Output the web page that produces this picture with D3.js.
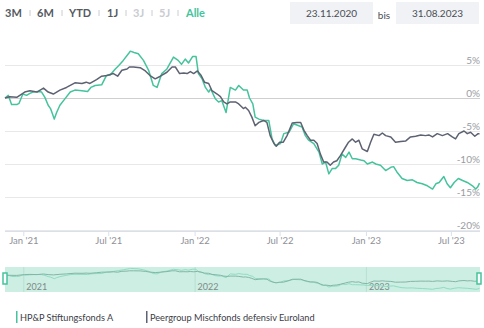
<!DOCTYPE html>
<html>
<head>
<meta charset="utf-8">
<script src="https://cdn.jsdelivr.net/npm/d3@7"></script>
<style>
  html, body { margin: 0; padding: 0; background: #fff; }
  svg { display: block; font-family: Lato, "Open Sans", sans-serif; }
</style>
</head>
<body>
<svg id="chart" width="484" height="328"></svg>
<script>
// Performance in % since 23.11.2020
const fundName = "HP&P Stiftungsfonds A";
const peerName = "Peergroup Mischfonds defensiv Euroland";

const fundDates = ["2020-11-23","2020-11-30","2020-12-07","2020-12-18","2020-12-23","2020-12-31","2021-01-08","2021-01-15","2021-01-22","2021-02-02","2021-02-09","2021-02-16","2021-02-23","2021-02-28","2021-03-08","2021-03-13","2021-03-20","2021-03-31","2021-04-11","2021-04-21","2021-05-06","2021-05-18","2021-05-25","2021-06-03","2021-06-17","2021-06-27","2021-07-05","2021-07-16","2021-07-23","2021-08-02","2021-08-15","2021-08-17","2021-08-25","2021-09-03","2021-09-14","2021-09-25","2021-10-05","2021-10-13","2021-10-23","2021-11-03","2021-11-17","2021-11-27","2021-12-04","2021-12-12","2021-12-19","2021-12-28","2022-01-04","2022-01-09","2022-01-17","2022-01-24","2022-01-31","2022-02-04","2022-02-14","2022-02-21","2022-02-28","2022-03-09","2022-03-18","2022-03-29","2022-04-05","2022-04-15","2022-04-23","2022-04-28","2022-05-05","2022-05-10","2022-05-18","2022-05-28","2022-06-08","2022-06-15","2022-06-22","2022-07-03","2022-07-10","2022-07-21","2022-07-31","2022-08-11","2022-08-18","2022-08-25","2022-09-01","2022-09-12","2022-09-23","2022-09-30","2022-10-07","2022-10-14","2022-10-21","2022-10-28","2022-11-04","2022-11-11","2022-11-19","2022-11-26","2022-12-03","2022-12-10","2022-12-21","2022-12-28","2023-01-04","2023-01-15","2023-01-22","2023-02-01","2023-02-12","2023-02-23","2023-03-01","2023-03-08","2023-03-19","2023-03-30","2023-04-10","2023-04-20","2023-05-01","2023-05-12","2023-05-23","2023-05-30","2023-06-06","2023-06-16","2023-06-23","2023-06-30","2023-07-08","2023-07-17","2023-07-26","2023-08-05","2023-08-16","2023-08-23","2023-08-27","2023-08-31"];
const fundValues = [0,0.4,-1.0,-1.0,-0.8,0.6,0.4,0.7,0.9,1.0,0.9,0.1,-1.1,-1.6,-3.2,-2.2,-1.1,-0.1,0.9,1.2,1.1,1.0,1.6,1.9,2.0,3.4,3.5,4.4,4.9,5.7,6.9,7.1,6.9,6.7,5.7,4.2,1.9,1.6,3.7,4.4,6.2,5.7,5.1,5.9,5.3,6.3,6.3,3.7,2.9,1.6,0.9,1.4,-0.1,-0.6,-0.4,-2.2,1.6,1.2,1.9,1.2,1.2,0.0,-0.9,-2.9,-3.2,-3.4,-3.4,-6.2,-7.2,-6.9,-5.4,-5.2,-3.9,-4.2,-4.4,-5.7,-6.4,-6.9,-8.2,-10.0,-9.7,-11.5,-10.7,-10.7,-10.2,-8.5,-9.0,-8.2,-9.2,-9.2,-9.4,-9.5,-10.0,-9.7,-10.0,-10.2,-11.0,-10.5,-10.4,-11.2,-12.2,-12.5,-12.4,-12.8,-13.0,-13.3,-13.8,-13.0,-12.8,-11.9,-13.0,-13.6,-12.8,-12.2,-12.5,-12.8,-13.3,-13.8,-13.5,-12.9];

const peerDates = ["2020-11-23","2020-12-03","2020-12-18","2021-01-04","2021-01-15","2021-01-30","2021-02-13","2021-02-23","2021-03-06","2021-03-20","2021-04-03","2021-04-21","2021-05-06","2021-05-15","2021-05-23","2021-06-06","2021-06-17","2021-06-28","2021-07-12","2021-07-21","2021-07-30","2021-08-10","2021-08-15","2021-08-24","2021-09-07","2021-09-18","2021-09-28","2021-10-09","2021-10-20","2021-11-03","2021-11-14","2021-11-21","2021-11-30","2021-12-09","2021-12-16","2021-12-23","2021-12-30","2022-01-07","2022-01-15","2022-01-22","2022-01-31","2022-02-07","2022-02-18","2022-02-25","2022-03-04","2022-03-11","2022-03-18","2022-03-29","2022-04-05","2022-04-15","2022-04-19","2022-04-26","2022-05-03","2022-05-10","2022-05-18","2022-05-28","2022-06-04","2022-06-11","2022-06-19","2022-06-24","2022-07-01","2022-07-09","2022-07-17","2022-07-28","2022-08-07","2022-08-15","2022-08-22","2022-08-29","2022-09-05","2022-09-12","2022-09-19","2022-09-26","2022-10-03","2022-10-10","2022-10-17","2022-10-24","2022-10-31","2022-11-08","2022-11-18","2022-11-25","2022-12-03","2022-12-10","2022-12-17","2022-12-24","2023-01-04","2023-01-11","2023-01-18","2023-01-29","2023-02-05","2023-02-12","2023-02-23","2023-03-05","2023-03-16","2023-03-27","2023-04-06","2023-04-17","2023-04-28","2023-05-08","2023-05-15","2023-05-23","2023-06-02","2023-06-13","2023-06-24","2023-07-04","2023-07-11","2023-07-18","2023-07-29","2023-08-05","2023-08-12","2023-08-21","2023-08-28","2023-08-31"];
const peerValues = [0,0.2,0.1,0.9,1.1,0.9,1.5,0.9,0.6,1.2,1.6,2.3,2.2,2.4,2.2,2.8,3.3,3.4,3.7,3.3,4.2,4.4,4.7,4.7,4.6,4.1,3.4,2.9,3.3,3.9,4.7,4.7,3.7,3.8,3.7,4.0,3.7,4.1,3.4,2.4,2.2,1.1,0.6,0.2,-0.6,-0.9,-0.6,-0.6,-0.9,-1.6,-1.4,-1.9,-2.9,-4.2,-3.7,-3.4,-3.7,-5.7,-6.9,-7.3,-6.7,-6.7,-5.7,-3.8,-3.7,-3.7,-4.9,-5.7,-6.4,-6.4,-6.9,-8.5,-9.7,-9.7,-10.2,-9.7,-9.5,-8.7,-7.5,-6.7,-6.2,-6.7,-6.4,-7.7,-8.1,-6.7,-5.5,-5.7,-5.3,-5.7,-5.9,-6.7,-6.6,-6.5,-5.9,-5.8,-5.6,-5.7,-5.6,-5.9,-5.4,-5.7,-5.4,-5.9,-6.2,-5.4,-5.0,-5.4,-5.2,-5.8,-5.4,-5.4];

const yTickValues = [5, 0, -5, -10, -15, -20];
const xTickDates = ["2021-01-01","2021-07-01","2022-01-01","2022-07-01","2023-01-01","2023-07-01"];
const navYearDates = ["2021-01-01","2022-01-01","2023-01-01"];
const rangeButtons = ["3M", "6M", "YTD", "1J", "3J", "5J", "Alle"];
const rangeState = ["on", "on", "on", "on", "off", "off", "active"];
const startLabel = "23.11.2020";
const endLabel = "31.08.2023";

const green = "#45c39c";
const slate = "#5d6272";

const parse = d3.timeParse("%Y-%m-%d");
const fund = fundDates.map((d, i) => ({ date: parse(d), value: fundValues[i] }));
const peer = peerDates.map((d, i) => ({ date: parse(d), value: peerValues[i] }));

const svg = d3.select("#chart");

// ---- range selector buttons ----
const btnX = [5, 37, 69, 107, 133, 159, 186];
const sepX = [30, 62, 99, 126, 152, 178];
const btnColor = { on: "#555a62", off: "#c9ccd1", active: green };
svg.append("g").selectAll("text").data(rangeButtons).join("text")
  .attr("x", (d, i) => btnX[i]).attr("y", 17)
  .attr("font-size", 11).attr("font-weight", 700)
  .attr("fill", (d, i) => btnColor[rangeState[i]])
  .text(d => d);
svg.append("g").selectAll("line").data(sepX).join("line")
  .attr("x1", d => d).attr("x2", d => d).attr("y1", 10).attr("y2", 16)
  .attr("stroke", "#c9ccd1").attr("stroke-width", 1);

// ---- date inputs ----
const boxes = [{ x: 290, w: 83, label: startLabel }, { x: 396, w: 83, label: endLabel }];
const bx = svg.append("g").selectAll("g").data(boxes).join("g");
bx.append("rect").attr("x", d => d.x).attr("y", 2).attr("width", d => d.w).attr("height", 22)
  .attr("fill", "#f0f2f5");
bx.append("text").attr("x", d => d.x + d.w / 2).attr("y", 16.5).attr("text-anchor", "middle")
  .attr("font-size", 10).attr("fill", "#4a4e55").text(d => d.label);
svg.append("text").attr("x", 384).attr("y", 18.5).attr("text-anchor", "middle")
  .attr("font-size", 10).attr("fill", "#4a4e55").text("bis");

// ---- main plot ----
const x = d3.scaleTime()
  .domain([parse("2020-11-23"), parse("2023-08-31")])
  .range([5, 479.5]);
const y = d3.scaleLinear().domain([-20, 5]).range([230, 65]);

const grid = svg.append("g");
grid.selectAll("line").data(yTickValues).join("line")
  .attr("x1", 5).attr("x2", 480)
  .attr("y1", d => y(d) + 0.5).attr("y2", d => y(d) + 0.5)
  .attr("stroke", d => d === 0 ? "#cfcfcf" : "#e8e8e8").attr("stroke-width", 1);
grid.selectAll("text").data(yTickValues).join("text")
  .attr("x", 480).attr("y", d => y(d) - 1.5)
  .attr("text-anchor", "end").attr("font-size", 10).attr("fill", "#9a9ca2")
  .text(d => d + "%");

// x axis
const xAxis = d3.axisBottom(x)
  .tickValues(xTickDates.map(parse))
  .tickSize(5)
  .tickFormat(d3.timeFormat("%b '%y"));
const ax = svg.append("g").attr("transform", "translate(0,231)").call(xAxis);
ax.select(".domain").attr("d", "M5,0.5H480").attr("stroke", "#d9e0ec");
ax.selectAll(".tick line").attr("stroke", "#d9e0ec");
ax.selectAll(".tick text").attr("font-family", "Lato, 'Open Sans', sans-serif")
  .attr("font-size", 9.5).attr("fill", "#8e9098").attr("dy", "0.55em");

const line = d3.line().x(d => x(d.date)).y(d => y(d.value)).curve(d3.curveLinear);
svg.append("path").datum(fund).attr("d", line)
  .attr("fill", "none").attr("stroke", green).attr("stroke-width", 1.5).attr("stroke-linejoin", "round");
svg.append("path").datum(peer).attr("d", line)
  .attr("fill", "none").attr("stroke", slate).attr("stroke-width", 1.5).attr("stroke-linejoin", "round");

// ---- navigator ----
const navTop = 267, navBottom = 292;
const nav = svg.append("g");
nav.append("rect").attr("x", 5).attr("y", navTop).attr("width", 475).attr("height", navBottom - navTop)
  .attr("fill", "#cdeee3");
const ny = d3.scaleLinear().domain([-14.5, 7.5]).range([290, 268]);
nav.selectAll("line.year").data(navYearDates).join("line").attr("class", "year")
  .attr("x1", d => x(parse(d)) + 0.5).attr("x2", d => x(parse(d)) + 0.5)
  .attr("y1", navTop).attr("y2", navBottom).attr("stroke", "#b9dfd2");
nav.selectAll("text").data(navYearDates).join("text")
  .attr("x", d => x(parse(d)) + 3).attr("y", 290)
  .attr("font-size", 9).attr("fill", "#7d8a86")
  .text(d => d.slice(0, 4));
const navLine = d3.line().x(d => x(d.date)).y(d => ny(d.value));
nav.append("path").datum(fund).attr("d", navLine)
  .attr("fill", "none").attr("stroke", "#8fdcc3").attr("stroke-width", 1);
nav.append("path").datum(peer).attr("d", navLine)
  .attr("fill", "none").attr("stroke", "#84b5a6").attr("stroke-width", 1);
nav.selectAll("rect.handle").data([5, 479]).join("rect").attr("class", "handle")
  .attr("x", d => d - 2).attr("y", 273).attr("width", 4).attr("height", 11)
  .attr("fill", "#fff").attr("stroke", green).attr("stroke-width", 1.5);

// ---- legend ----
const legendItems = [{ name: fundName, color: green, x: 16 }, { name: peerName, color: slate, x: 146 }];
const lg = svg.append("g").selectAll("g").data(legendItems).join("g");
lg.append("rect").attr("x", d => d.x).attr("y", 311).attr("width", 1.5).attr("height", 12)
  .attr("fill", d => d.color);
lg.append("text").attr("x", d => d.x + 4).attr("y", 320.5)
  .attr("font-size", 9.2).attr("fill", "#3d4047").text(d => d.name);
</script>
</body>
</html>
